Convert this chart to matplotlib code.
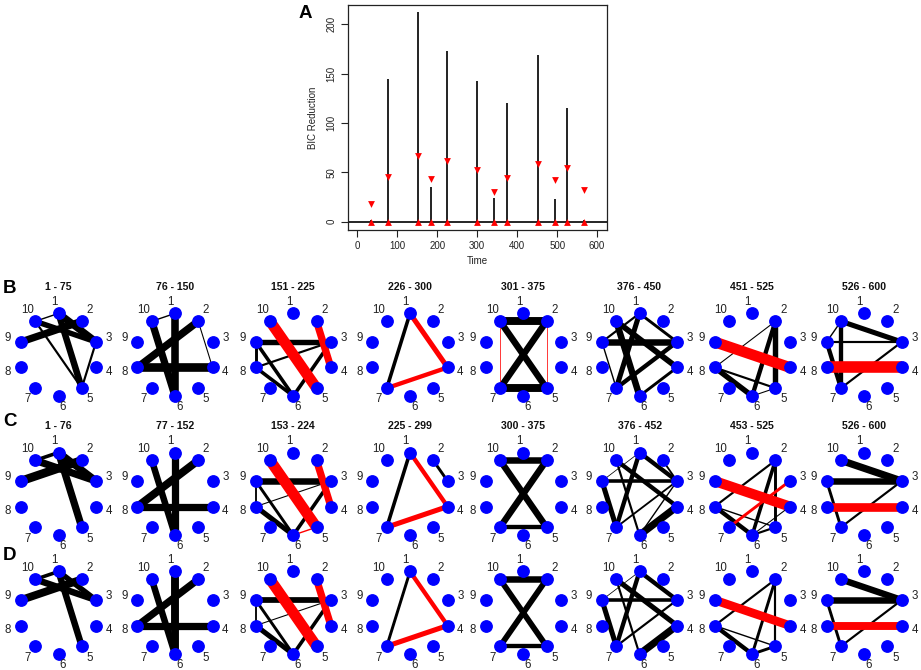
import numpy as np
import matplotlib
matplotlib.use("Agg")
import matplotlib.pyplot as plt

plt.rcParams['font.family'] = ['Liberation Sans', 'DejaVu Sans']

# ---------------- Panel A data ----------------
SPIKE_TIME = [34, 76, 152, 184, 225, 300, 342, 375, 452, 494, 525, 567]
BIC_REDUCTION = [2, 144, 212, 35, 173, 142, 23.5, 120, 169, 23, 115.5, 2]
THRESHOLD = [18, 45.5, 66.5, 43, 61, 52, 30.5, 44, 58, 42.5, 54, 32.5]
X_TICKS = [0, 100, 200, 300, 400, 500, 600]
Y_TICKS = [0, 50, 100, 150, 200]

# ---------------- Network panels data ----------------
NODE_LABELS = ["1", "2", "3", "4", "5", "6", "7", "8", "9", "10"]
TITLES_B = ["1 - 75", "76 - 150", "151 - 225", "226 - 300",
            "301 - 375", "376 - 450", "451 - 525", "526 - 600"]
TITLES_C = ["1 - 76", "77 - 152", "153 - 224", "225 - 299",
            "300 - 375", "376 - 452", "453 - 525", "526 - 600"]
TITLES_D = [None] * 8

# edges: (node_a, node_b, weight); negative weight -> red edge
EDGES_B = [
    [(9, 2, 6.7), (1, 3, 6.7), (10, 3, 5), (1, 5, 6), (10, 1, 1.3), (10, 5, 2), (3, 5, 2)],
    [(10, 1, 1.3), (2, 8, 7), (2, 4, 1), (8, 4, 8), (1, 6, 7), (10, 6, 6.7)],
    [(9, 3, 5), (9, 8, 2.7), (9, 6, 3.3), (8, 3, 2), (8, 6, 3.3), (6, 3, 3.3),
     (10, 5, -10), (2, 4, -6.7)],
    [(1, 7, 3.3), (1, 4, -4.7), (7, 4, -4)],
    [(10, 2, 7.3), (7, 5, 7.3), (10, 5, 6), (2, 7, 6), (10, 7, -0.7), (2, 5, -0.7)],
    [(9, 3, 6), (10, 4, 5.3), (10, 6, 6), (1, 7, 4.7), (1, 9, 2), (1, 3, 2.7),
     (9, 7, 1.3), (7, 3, 4), (6, 4, 2.7)],
    [(2, 8, 1), (2, 5, 5), (2, 6, 4), (8, 6, 5), (8, 5, 2), (6, 5, 1), (9, 4, -10)],
    [(10, 3, 4.7), (9, 3, 2), (10, 7, 4), (9, 7, 4), (7, 3, 2), (10, 9, 1.3), (8, 4, -10.7)],
]
EDGES_C = [
    [(10, 1, 3.3), (10, 3, 6.7), (1, 3, 6.7), (9, 2, 8), (1, 5, 6.7)],
    [(10, 6, 6), (1, 6, 6.7), (2, 8, 7.3), (8, 4, 6.7)],
    [(9, 3, 6), (9, 8, 1.7), (9, 6, 2.7), (8, 3, 1), (8, 6, 4.7), (6, 3, 3.3),
     (10, 5, -10), (2, 4, -6.7), (6, 5, -1.3)],
    [(1, 7, 3.3), (2, 3, 2.7), (1, 4, -4), (7, 4, -4.7)],
    [(10, 2, 6), (7, 5, 4), (10, 5, 6), (2, 7, 6)],
    [(1, 3, 4), (2, 3, 1.7), (9, 3, 3.3), (10, 4, 4), (9, 1, 0.7), (1, 7, 4),
     (10, 6, 2), (9, 7, 4.7), (7, 3, 1.7), (6, 4, 6.7), (6, 3, 1.3)],
    [(2, 8, 2), (2, 6, 3.3), (2, 5, 2.7), (8, 6, 4), (8, 5, 1.3), (6, 5, 2), (6, 4, 1),
     (9, 4, -9.3), (3, 7, -2.7)],
    [(10, 3, 6.7), (9, 3, 6), (9, 7, 2.7), (7, 3, 2), (8, 4, -8)],
]
EDGES_D = [
    [(10, 1, 3.3), (10, 3, 6), (1, 3, 5), (9, 2, 7.3), (1, 5, 6)],
    [(10, 6, 6), (1, 6, 7.3), (2, 8, 6.7), (8, 4, 6.7)],
    [(9, 3, 5.3), (9, 8, 1.7), (9, 6, 2.7), (8, 3, 1), (8, 6, 4.7), (6, 3, 3.3),
     (10, 5, -10), (2, 4, -6.7)],
    [(1, 7, 2.7), (1, 4, -4), (7, 4, -4.7)],
    [(10, 2, 6), (7, 5, 4), (10, 5, 5.3), (2, 7, 5.3)],
    [(1, 3, 4), (9, 3, 3.3), (10, 4, 4.7), (9, 1, 0.7), (1, 7, 4), (10, 6, 2),
     (9, 7, 4.7), (7, 3, 2), (6, 4, 6.7)],
    [(2, 8, 2), (2, 6, 2.7), (2, 5, 2), (8, 6, 4), (8, 5, 1.3), (6, 5, 2.7), (9, 4, -8)],
    [(10, 3, 6), (9, 3, 6), (9, 7, 2.7), (7, 3, 2), (8, 4, -7.3)],
]

# ---------------- Figure ----------------
W, H = 921, 670
fig = plt.figure(figsize=(W / 100, H / 100), dpi=100)


def px_axes(left, top, width, height):
    return fig.add_axes([left / W, 1 - (top + height) / H, width / W, height / H])


# ---- Panel A ----
axA = px_axes(347.7, 5, 259, 225)
axA.vlines(SPIKE_TIME, 0, BIC_REDUCTION, color='#111111', lw=1.3, zorder=2)
axA.axhline(0, color='black', lw=1.2, zorder=2)
axA.scatter(SPIKE_TIME, THRESHOLD, marker='v', color='red', s=24, linewidths=0, zorder=3)
axA.scatter(SPIKE_TIME, np.zeros(len(SPIKE_TIME)), marker='^', color='red', s=24,
            linewidths=0, zorder=3)
axA.set_xlim(-24, 624)
axA.set_ylim(-8.44, 219.4)
axA.set_xticks(X_TICKS)
axA.set_yticks(Y_TICKS)
axA.tick_params(direction='out', length=5, width=0.8, labelsize=7, pad=3,
                colors='#222222')
for lab in axA.get_yticklabels():
    lab.set_rotation(90)
    lab.set_va('center')
for sp in axA.spines.values():
    sp.set_linewidth(0.9)
    sp.set_color('#222222')
axA.text(0.5, -(261 - 230) / 225, "Time", transform=axA.transAxes,
         ha='center', va='center', fontsize=7, color='#222222')
axA.text(-(347.7 - 313) / 259, 0.5, "BIC Reduction", transform=axA.transAxes,
         ha='center', va='center', rotation=90, fontsize=7, color='#222222')

fig.text(305 / W, 1 - 14 / H, "A", fontsize=13.5, fontweight='bold', ha='center', va='center')
fig.text(9.5 / W, 1 - 288.5 / H, "B", fontsize=13.5, fontweight='bold', ha='center', va='center')
fig.text(10 / W, 1 - 421 / H, "C", fontsize=13.5, fontweight='bold', ha='center', va='center')
fig.text(10 / W, 1 - 555.7 / H, "D", fontsize=13.5, fontweight='bold', ha='center', va='center')

# ---- Network panels ----
COL_CX = [58.5, 175, 293.3, 410, 523.3, 639.5, 752.2, 864.2]
ROW_CY = [354.7, 493.8, 612.8]
RX, RY = 39.5, 41.3

n_nodes = len(NODE_LABELS)
theta = np.pi / 2 - 2 * np.pi * np.arange(n_nodes) / n_nodes
node_x = np.cos(theta)
node_y = np.sin(theta)

rows = [(EDGES_B, TITLES_B), (EDGES_C, TITLES_C), (EDGES_D, TITLES_D)]
for r, (edges_row, titles_row) in enumerate(rows):
    cy = ROW_CY[r]
    for c, edges in enumerate(edges_row):
        cx = COL_CX[c]
        ax = px_axes(cx - 1.5 * RX, cy - 1.7 * RY, 3 * RX, 3.4 * RY)
        ax.set_xlim(-1.5, 1.5)
        ax.set_ylim(-1.7, 1.7)
        ax.axis('off')
        ordered = [e for e in edges if e[2] > 0] + [e for e in edges if e[2] < 0]
        for a, b, w in ordered:
            col = 'black' if w > 0 else '#ff0000'
            ax.plot([node_x[a - 1], node_x[b - 1]], [node_y[a - 1], node_y[b - 1]],
                    color=col, lw=abs(w) * 0.78, solid_capstyle='butt', zorder=2,
                    clip_on=False)
        ax.plot(node_x, node_y, 'o', ms=8.2, color='#0000ff', mec='#0000ff',
                zorder=3, clip_on=False)
        for k, lab in enumerate(NODE_LABELS):
            rr = 1.28 if k in (0, 5) else 1.34
            ang = theta[k] + (np.deg2rad(5) if k in (0, 5) else 0)
            ax.text(rr * np.cos(ang), rr * np.sin(ang), lab, fontsize=8.3,
                    ha='center', va='center', color='#222222', clip_on=False)
        if titles_row[c] is not None:
            ax.text(0, 1.63, titles_row[c], fontsize=7.6, fontweight='bold',
                    ha='center', va='center', color='#111111', clip_on=False)

fig.savefig("out.png", dpi=100)
